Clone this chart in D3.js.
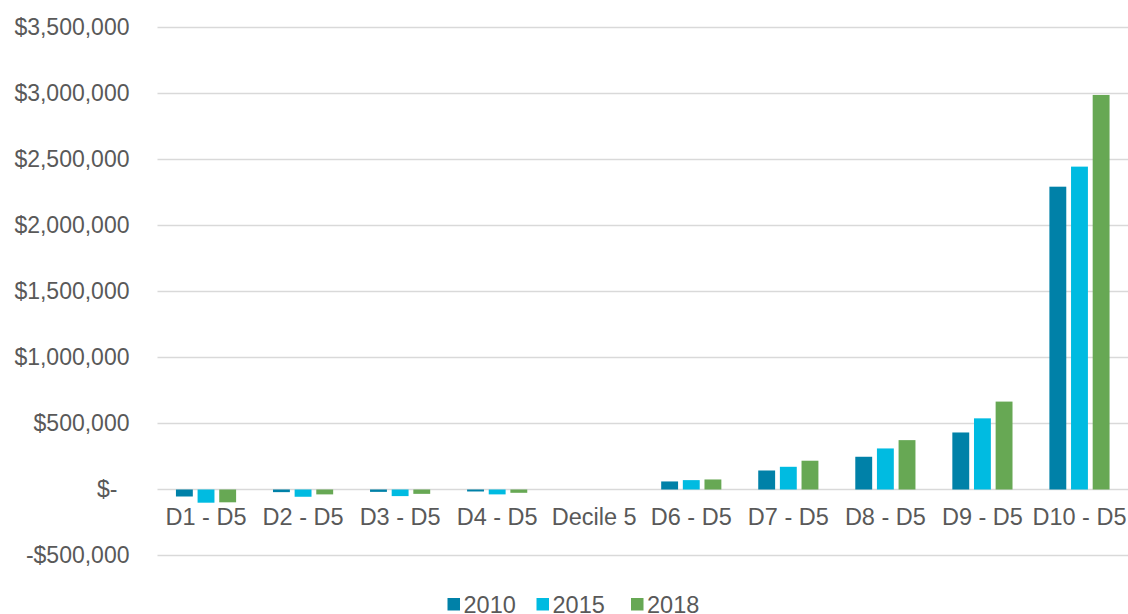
<!DOCTYPE html>
<html lang="en">
<head>
<meta charset="UTF-8">
<title>Decile differences</title>
<style>
    body { margin: 0; background: #fff; }
    svg text { font-family: "Liberation Sans", Arial, sans-serif; fill: #595959; }
    .grid line { stroke: #d9d9d9; stroke-width: 1.5px; }
</style>
</head>
<body>
<svg id="chart" width="1128" height="614"></svg>
<script src="https://d3js.org/d3.v7.min.js"></script>
<script>
    // Data
    const categories = ["D1 - D5", "D2 - D5", "D3 - D5", "D4 - D5", "Decile 5", "D6 - D5", "D7 - D5", "D8 - D5", "D9 - D5", "D10 - D5"];
    const years = ["2010", "2015", "2018"];
    const values2010 = [-53000, -20000, -18000, -15000, 0, 61000, 144000, 248000, 432000, 2294000];
    const values2015 = [-100000, -55000, -50000, -37000, 0, 71000, 172000, 311000, 539000, 2446000];
    const values2018 = [-97000, -37000, -33000, -25000, 0, 76000, 218000, 374000, 666000, 2989000];
    const yTicks = [-500000, 0, 500000, 1000000, 1500000, 2000000, 2500000, 3000000, 3500000];
    const colors = ["#0081a8", "#00bbe1", "#67a854"];

    const series = [values2010, values2015, values2018];
    const svg = d3.select("#chart");

    const margin = { top: 27.5, right: 0, bottom: 58.5, left: 157.5 };
    const width = 1128 - margin.left - margin.right;
    const height = 614 - margin.top - margin.bottom;
    const g = svg.append("g").attr("transform", `translate(${margin.left},${margin.top})`);

    const x0 = d3.scaleBand().domain(categories).range([0, width]).paddingInner(0.38).paddingOuter(0.19);
    const x1 = d3.scaleBand().domain(years).range([0, x0.bandwidth()]).paddingInner(0.22);
    const y = d3.scaleLinear().domain([-500000, 3500000]).range([height, 0]);

    // gridlines
    g.append("g").attr("class", "grid")
        .selectAll("line").data(yTicks).enter().append("line")
        .attr("x1", 0).attr("x2", width)
        .attr("y1", d => y(d)).attr("y2", d => y(d));

    // y axis labels
    const fmt = d3.format(",");
    const yAxis = d3.axisLeft(y).tickValues(yTicks).tickSize(0).tickPadding(28)
        .tickFormat(d => d === 0 ? "$-" : (d < 0 ? "-$" + fmt(-d) : "$" + fmt(d)));
    const ya = g.append("g").call(yAxis);
    ya.select(".domain").remove();
    ya.selectAll("text").style("font-size", "23px")
        .attr("dx", d => d === 0 ? -12 : 0);

    // bars
    const groups = g.selectAll(".cat").data(categories).enter().append("g")
        .attr("transform", d => `translate(${x0(d)},0)`);
    groups.selectAll("rect")
        .data((c, i) => years.map((yr, k) => ({ yr: yr, k: k, v: series[k][i] })))
        .enter().append("rect")
        .attr("x", d => x1(d.yr))
        .attr("width", x1.bandwidth())
        .attr("y", d => y(Math.max(0, d.v)))
        .attr("height", d => Math.abs(y(d.v) - y(0)))
        .attr("fill", d => colors[d.k]);

    // category labels under the zero line
    const xAxis = d3.axisBottom(x0).tickSize(0).tickPadding(19);
    const xa = g.append("g").attr("transform", `translate(0,${y(0)})`).call(xAxis);
    xa.select(".domain").remove();
    xa.selectAll("text").style("font-size", "23.5px");

    // legend
    const legendX = [447.5, 536.5, 631];
    const legend = svg.selectAll(".legend").data(years).enter().append("g")
        .attr("transform", (d, i) => `translate(${legendX[i]},598)`);
    legend.append("rect").attr("width", 12.5).attr("height", 12.5).attr("fill", (d, i) => colors[i]);
    legend.append("text").attr("x", 16).attr("y", 14.5).style("font-size", "23.5px").text(d => d);
</script>
</body>
</html>
